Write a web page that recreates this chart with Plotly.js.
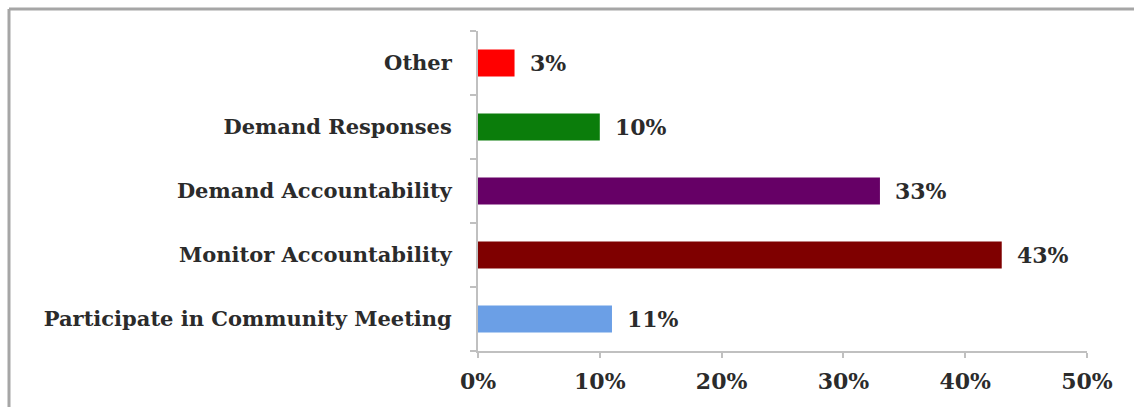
<!DOCTYPE html>
<html>
<head>
<meta charset="utf-8">
<script src="https://cdn.plot.ly/plotly-3.0.1.min.js"></script>
<style>
html,body{margin:0;padding:0;background:#fff;}
#chart{width:1134px;height:407px;}
</style>
</head>
<body>
<div id="chart"></div>
<script>
const categories = ["Participate in Community Meeting", "Monitor Accountability", "Demand Accountability", "Demand Responses", "Other"];
const values = [11, 43, 33, 10, 3];
const valueLabels = ["11%", "43%", "33%", "10%", "3%"];
const barColors = ["#6b9fe6", "#7f0000", "#660066", "#0b7d0b", "#ff0000"];
const xTickVals = [0, 10, 20, 30, 40, 50];
const xTickText = ["0%", "10%", "20%", "30%", "40%", "50%"];

const fontFam = "DejaVu Serif, Liberation Serif, serif";
const textColor = "#2b2b2b";

const trace = {
  type: "bar",
  orientation: "h",
  y: categories,
  x: values,
  marker: {color: barColors, line: {width: 0}},
  hoverinfo: "none"
};

const annotations = categories.map((c, i) => ({
  x: values[i], y: c, xref: "x", yref: "y",
  text: valueLabels[i], showarrow: false,
  xanchor: "left", yanchor: "middle", xshift: 13,
  font: {family: fontFam, size: 22, color: textColor, weight: "bold"}
}));

const layout = {
  width: 1134, height: 407,
  margin: {l: 478, r: 47, t: 31, b: 56, pad: 0},
  paper_bgcolor: "#ffffff",
  plot_bgcolor: "#ffffff",
  showlegend: false,
  bargap: 0.58,
  xaxis: {
    range: [0, 50], tickvals: xTickVals, ticktext: xTickText,
    showgrid: false, zeroline: false,
    showline: true, linecolor: "#c0c0c0", linewidth: 2,
    ticks: "outside", ticklen: 5, tickcolor: "#c0c0c0", tickwidth: 2,
    ticklabelstandoff: 5,
    tickfont: {family: fontFam, size: 22, color: textColor, weight: "bold"},
    fixedrange: true
  },
  yaxis: {
    type: "category", categoryorder: "array", categoryarray: categories,
    showgrid: false, zeroline: false,
    showline: true, linecolor: "#c0c0c0", linewidth: 2,
    ticks: "outside", ticklen: 6, tickcolor: "#c0c0c0", tickwidth: 2,
    tickson: "boundaries",
    ticklabelstandoff: 20,
    tickfont: {family: fontFam, size: 21, color: textColor, weight: "bold"},
    fixedrange: true
  },
  annotations: annotations,
  shapes: [
    {type: "line", xref: "paper", yref: "paper",
     x0: (9 - 478) / 609, x1: (1140 - 478) / 609, y0: 1 + (31 - 9) / 320, y1: 1 + (31 - 9) / 320,
     line: {color: "#a6a6a6", width: 3}},
    {type: "line", xref: "paper", yref: "paper",
     x0: (9 - 478) / 609, x1: (9 - 478) / 609, y0: 1 + (31 - 9) / 320, y1: -(420 - 351) / 320,
     line: {color: "#a6a6a6", width: 3}}
  ]
};

Plotly.newPlot("chart", [trace], layout, {displayModeBar: false, staticPlot: true});
</script>
</body>
</html>
